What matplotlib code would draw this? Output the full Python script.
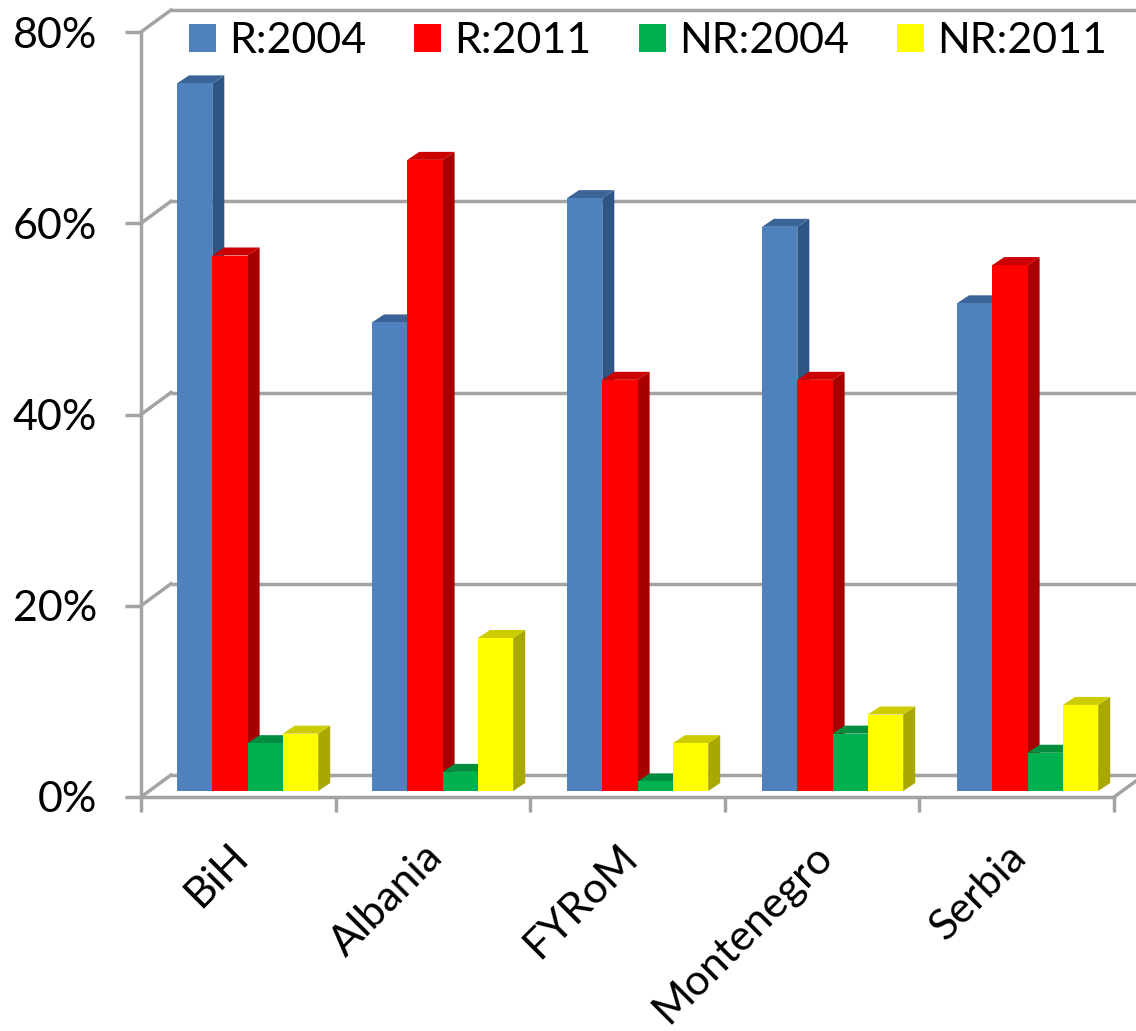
import matplotlib
matplotlib.use("Agg")
import matplotlib.pyplot as plt
from matplotlib.patches import Polygon, Patch
from matplotlib.ticker import FuncFormatter
from matplotlib.transforms import ScaledTranslation

countries = ["BiH", "Albania", "FYRoM", "Montenegro", "Serbia"]
series_names = ["R:2004", "R:2011", "NR:2004", "NR:2011"]
r_2004 = [74, 49, 62, 59, 51]
r_2011 = [56, 66, 43, 43, 55]
nr_2004 = [5, 2, 1, 6, 4]
nr_2011 = [6, 16, 5, 8, 9]
series_values = [r_2004, r_2011, nr_2004, nr_2011]

front_colors = ["#4f81bd", "#ff0000", "#00b050", "#ffff00"]
top_colors = ["#3a6497", "#cc0000", "#008d40", "#cccc00"]
side_colors = ["#2f5585", "#a80000", "#007a36", "#a8a800"]
frame_color = "#a3a3a3"

W, H = 1136, 1031
LEFT, RIGHT, TOP, BOTTOM = 141, 1114, 32, 797
px_x = 5 / (RIGHT - LEFT)
px_y = 80 / (BOTTOM - TOP)
FONT_SIZE = 31

plt.rcParams["font.family"] = ["Lato", "DejaVu Sans"]
fig = plt.figure(figsize=(W / 100, H / 100), dpi=100)
ax = fig.add_axes([LEFT / W, 1 - BOTTOM / H, (RIGHT - LEFT) / W, (BOTTOM - TOP) / H])
ax.set_xlim(0, 5)
ax.set_ylim(0, 80)
ax.set_facecolor("none")

# Axis frame, ticks and labels
lw = 2.5
for name in ("top", "right"):
    ax.spines[name].set_visible(False)
for name in ("left", "bottom"):
    ax.spines[name].set_color(frame_color)
    ax.spines[name].set_linewidth(lw)
ax.set_yticks([0, 20, 40, 60, 80])
ax.yaxis.set_major_formatter(FuncFormatter(lambda v, _: f"{v:.0f}%"))
ax.set_xticks(range(6))
ax.set_xticklabels([])
ax.set_xticks([i + 0.5 for i in range(5)], minor=True)
ax.set_xticklabels(countries, minor=True, rotation=45, ha="right", va="top",
                   rotation_mode="anchor")
ax.tick_params(axis="y", length=11.5, width=lw, color=frame_color,
               labelsize=FONT_SIZE, pad=20)
ax.tick_params(axis="x", which="major", length=11, width=lw, color=frame_color)
ax.tick_params(axis="x", which="minor", length=0, labelsize=FONT_SIZE, pad=29)
label_shift = ScaledTranslation(-10 / 100, 0, fig.dpi_scale_trans)
for label in ax.get_xticklabels(minor=True):
    label.set_transform(label.get_transform() + label_shift)

# Back wall gridlines and left-wall diagonals
wall_dx, wall_dy = 30 * px_x, 22 * px_y
for level in [0, 20, 40, 60, 80]:
    ax.plot([wall_dx, 5.2], [level + wall_dy] * 2, color=frame_color, lw=lw,
            clip_on=False, zorder=1, solid_capstyle="butt")
    ax.plot([0, wall_dx], [level, level + wall_dy], color=frame_color, lw=lw,
            clip_on=False, zorder=1)
ax.plot([5, 5 + 22 * px_x], [0, 16 * px_y], color=frame_color, lw=lw, clip_on=False, zorder=1)

# Extruded bars: front face from the bar call, then side and top faces
bar_w = 35.3 * px_x
group_start = 36 * px_x
group_pitch = 195 * px_x
floor = 6 * px_y
depth_x, depth_y = 12 * px_x, 8 * px_y
for s, values in enumerate(series_values):
    for c, value in enumerate(values):
        x0 = group_start + c * group_pitch + s * bar_w
        x1 = x0 + bar_w
        top = value + floor
        order = 3 + 0.1 * s
        ax.add_patch(Polygon([(x1, floor), (x1 + depth_x, floor + depth_y),
                              (x1 + depth_x, top + depth_y), (x1, top)],
                             fc=side_colors[s], ec="none", clip_on=False, zorder=order))
        ax.add_patch(Polygon([(x0, top), (x0 + depth_x, top + depth_y),
                              (x1 + depth_x, top + depth_y), (x1, top)],
                             fc=top_colors[s], ec="none", clip_on=False, zorder=order))
        ax.bar(x0, value, width=bar_w, bottom=floor, align="edge", color=front_colors[s],
               edgecolor="none", clip_on=False, zorder=order + 0.05)

# Legend across the top of the plot
handles = [Patch(fc=c, ec="none", label=n) for c, n in zip(front_colors, series_names)]
ax.legend(handles=handles, ncols=4, frameon=False, fontsize=FONT_SIZE, loc="center",
          bbox_to_anchor=((648 - LEFT) / (RIGHT - LEFT), (BOTTOM - 41) / (BOTTOM - TOP)),
          handlelength=0.63, handleheight=0.63, handletextpad=0.3, columnspacing=1.11,
          borderaxespad=0, borderpad=0)

fig.savefig("out.png", dpi=100, facecolor="white")
